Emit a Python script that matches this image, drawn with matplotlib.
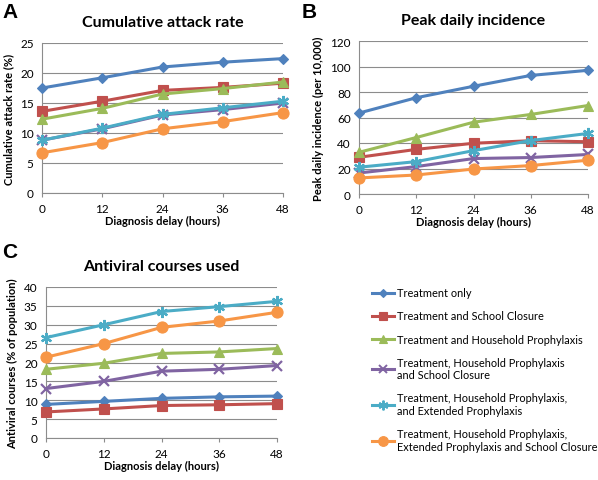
import matplotlib.pyplot as plt
from matplotlib.lines import Line2D

plt.rcParams['font.family'] = ['Lato', 'DejaVu Sans']

delay = [0, 12, 24, 36, 48]

labels = ["Treatment only",
          "Treatment and School Closure",
          "Treatment and Household Prophylaxis",
          "Treatment, Household Prophylaxis\nand School Closure",
          "Treatment, Household Prophylaxis,\nand Extended Prophylaxis",
          "Treatment, Household Prophylaxis,\nExtended Prophylaxis and School Closure"]

attack = [
    [17.5, 19.2, 21.0, 21.8, 22.4],
    [13.6, 15.3, 17.1, 17.6, 18.3],
    [12.3, 14.1, 16.5, 17.4, 18.5],
    [8.8, 10.7, 13.0, 13.9, 15.0],
    [8.8, 10.8, 13.1, 14.2, 15.3],
    [6.7, 8.4, 10.7, 11.9, 13.4],
]

peak = [
    [63.5, 75.5, 84.5, 93.0, 97.0],
    [28.8, 35.0, 39.8, 41.8, 41.0],
    [32.7, 44.3, 56.3, 62.4, 69.4],
    [16.5, 21.5, 27.8, 28.6, 31.0],
    [21.0, 25.4, 34.0, 41.9, 47.5],
    [12.6, 14.9, 19.6, 22.3, 26.5],
]

courses = [
    [8.9, 9.7, 10.5, 10.9, 11.1],
    [6.9, 7.7, 8.6, 8.8, 9.1],
    [18.2, 19.8, 22.4, 22.8, 23.7],
    [13.1, 15.0, 17.7, 18.2, 19.2],
    [26.6, 30.0, 33.5, 34.8, 36.2],
    [21.4, 25.0, 29.3, 31.0, 33.3],
]

colors = ['#4F81BD', '#C0504D', '#9BBB59', '#8064A2', '#4BACC6', '#F79646']
markers = ['D', 's', '^', 'x', (6, 2, 0), 'o']
msizes = [5.5, 6.5, 7, 7, 8, 8]

W, H = 598, 481
fig = plt.figure(figsize=(W / 100, H / 100), dpi=100)


def px_axes(left, top, right, bottom):
    return fig.add_axes([left / W, 1 - bottom / H, (right - left) / W, (bottom - top) / H])


def draw(ax, data, ymax, step, title, ylabel):
    for i in range(6):
        ax.plot(delay, data[i], color=colors[i], marker=markers[i], ms=msizes[i],
                lw=2.2, mew=1.6 if markers[i] in ('x', (6, 2, 0)) else 0.8,
                mec=colors[i], clip_on=False, zorder=3)
    ax.set_xlim(0, 48)
    ax.set_ylim(0, ymax)
    ax.set_xticks(delay)
    ax.set_yticks(range(0, ymax + 1, step))
    ax.grid(axis='y', color='#8c8c8c', lw=0.8)
    ax.set_axisbelow(True)
    for s in ['top', 'right']:
        ax.spines[s].set_visible(False)
    for s in ['left', 'bottom']:
        ax.spines[s].set_color('#8c8c8c')
    ax.tick_params(axis='x', length=3, color='#8c8c8c', labelsize=8.5, pad=4)
    ax.tick_params(axis='y', length=0, labelsize=8.5, pad=6)
    ax.set_title(title, fontsize=11.5, fontweight='bold', pad=12)
    ax.set_xlabel('Diagnosis delay (hours)', fontsize=8, fontweight='bold', labelpad=1)
    ax.set_ylabel(ylabel, fontsize=8, fontweight='bold', labelpad=4)


axA = px_axes(42, 44, 283, 194)
draw(axA, attack, 25, 5, 'Cumulative attack rate', 'Cumulative attack rate (%)')
axB = px_axes(359, 42, 588, 195)
draw(axB, peak, 120, 20, 'Peak daily incidence', 'Peak daily incidence (per 10,000)')
axC = px_axes(46, 288, 277, 439)
draw(axC, courses, 40, 5, 'Antiviral courses used', 'Antiviral courses (% of population)')

fig.text(2 / W, 1 - 3 / H, 'A', fontsize=15, fontweight='bold', va='top', family='Liberation Sans')
fig.text(302 / W, 1 - 3 / H, 'B', fontsize=15, fontweight='bold', va='top', family='Liberation Sans')
fig.text(2 / W, 1 - 243 / H, 'C', fontsize=15, fontweight='bold', va='top', family='Liberation Sans')

handles = [Line2D([], [], color=colors[i], marker=markers[i], ms=msizes[i] - 1, lw=2.2,
                  mew=1.4 if markers[i] in ('x', (6, 2, 0)) else 0.8)
           for i in range(6)]
fig.legend(handles, labels, loc='upper left', bbox_to_anchor=(368 / W, 1 - 284 / H),
           frameon=False, fontsize=7.9, handlelength=2.0, handletextpad=0.2,
           labelspacing=1.1, borderaxespad=0)

fig.savefig('out.png', dpi=100)
